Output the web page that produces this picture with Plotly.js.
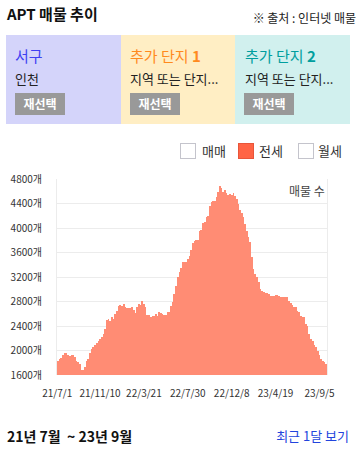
<!DOCTYPE html>
<html>
<head>
<meta charset="utf-8">
<script src="https://cdn.plot.ly/plotly-3.0.1.min.js"></script>
<style>
  html, body { margin: 0; padding: 0; background: #fff; }
  body { width: 358px; height: 449px; position: relative; overflow: hidden;
         font-family: "Noto Sans CJK KR", "Noto Sans", sans-serif; color: #222; }
  .abs { position: absolute; white-space: nowrap; }
  .card { position: absolute; top: 35px; height: 89px; }
  .ctitle { position: absolute; top: 48px; font-size: 15px; line-height: 15px; }
  .csub { position: absolute; top: 72px; font-size: 13px; line-height: 13px; color: #222; }
  .btn { position: absolute; top: 93px; width: 50px; height: 22px; background: #999;
         color: #fff; font-size: 12px; font-weight: bold; line-height: 22px; text-align: center; }
  .box { position: absolute; top: 143px; width: 14px; height: 14px; border: 1px solid #c4c4cc; background: #fff; }
  .ltext { position: absolute; top: 144px; font-size: 13px; line-height: 14px; color: #333; }
  #chart { position: absolute; left: 0; top: 165px; width: 358px; height: 240px; }
</style>
</head>
<body>
<div class="abs" style="left:7px; top:6px; font-size:15px; line-height:15px; font-weight:bold; color:#111;">APT 매물 추이</div>
<div class="abs" style="right:2px; top:12px; font-size:12px; line-height:12px; color:#222;">※ 출처 : 인터넷 매물</div>

<div class="card" style="left:6px; width:115px; background:#d4d4fa;"></div>
<div class="card" style="left:121px; width:114px; background:#ffeec4;"></div>
<div class="card" style="left:235px; width:115px; background:#d1f0ee;"></div>

<div class="ctitle abs" style="left:15px; color:#3f3ff2;">서구</div>
<div class="csub abs" style="left:15px;">인천</div>
<div class="btn" style="left:15px;">재선택</div>

<div class="ctitle abs" style="left:130px; color:#ff8a1e;">추가 단지 <b>1</b></div>
<div class="csub abs" style="left:130px;">지역 또는 단지...</div>
<div class="btn" style="left:130px;">재선택</div>

<div class="ctitle abs" style="left:245px; color:#009e9e;">추가 단지 <b>2</b></div>
<div class="csub abs" style="left:245px;">지역 또는 단지...</div>
<div class="btn" style="left:244px;">재선택</div>

<div class="box" style="left:180px;"></div>
<div class="ltext" style="left:202px;">매매</div>
<div class="box" style="left:238px; background:#ff6445; border-color:#e8553a;"></div>
<div class="ltext" style="left:259px;">전세</div>
<div class="box" style="left:298px;"></div>
<div class="ltext" style="left:318px;">월세</div>

<div id="chart"></div>

<div class="abs" style="left:7px; top:429px; font-size:14px; line-height:14px; font-weight:bold; color:#111;">21년 7월 &nbsp;~ 23년 9월</div>
<div class="abs" style="right:9px; top:429px; font-size:13px; line-height:14px; color:#2244dd;">최근 1달 보기</div>

<script>
// Listing counts (매물 수), 전세
const listingCounts = [
  1824, 1857, 1884, 1922, 1955, 1955, 1922, 1906, 1922, 1933,
  1890, 1830, 1808, 1775, 1687, 1687, 1731, 1824, 1868, 1955,
  2020, 2053, 2086, 2119, 2157, 2195, 2222, 2277, 2348, 2495,
  2512, 2485, 2545, 2518, 2588, 2637, 2730, 2741, 2725, 2758,
  2714, 2692, 2697, 2697, 2708, 2659, 2620, 2714, 2758, 2741,
  2801, 2752, 2703, 2577, 2577, 2539, 2566, 2566, 2599, 2566,
  2626, 2615, 2604, 2577, 2577, 2626, 2626, 2725, 2790, 2916,
  3052, 3205, 3282, 3353, 3451, 3446, 3446, 3500, 3538, 3642,
  3751, 3790, 3800, 3800, 3948, 3964, 4084, 4106, 4172, 4188,
  4363, 4428, 4439, 4439, 4505, 4592, 4690, 4647, 4592, 4614,
  4570, 4537, 4548, 4537, 4576, 4521, 4467, 4384, 4286, 4248,
  4177, 4068, 3953, 3860, 3778, 3522, 3325, 3243, 3205, 3123,
  3003, 2976, 2959, 2943, 2932, 2916, 2889, 2889, 2889, 2905,
  2905, 2889, 2867, 2867, 2878, 2867, 2872, 2807, 2779, 2747,
  2714, 2714, 2648, 2632, 2561, 2539, 2539, 2435, 2392, 2277,
  2195, 2157, 2086, 2053, 1993, 1933, 1862, 1835, 1807, 1786
];
const xTickLabels = ["21/7/1", "21/11/10", "22/3/21", "22/7/30", "22/12/8", "23/4/19", "23/9/5"];
const xTickIndex = [-0.4, 25, 51, 77, 103, 129, 155];
const yTickValues = [1600, 2000, 2400, 2800, 3200, 3600, 4000, 4400, 4800];
const yTickLabels = ["1600개", "2000개", "2400개", "2800개", "3200개", "3600개", "4000개", "4400개", "4800개"];

const xs = listingCounts.map((_, i) => i);

Plotly.newPlot('chart', [{
  type: 'bar',
  x: xs,
  y: listingCounts,
  marker: { color: '#ff8c74', line: { width: 0 } },
  hoverinfo: 'skip'
}], {
  width: 358, height: 240,
  margin: { l: 57, r: 31, t: 14, b: 30 },
  paper_bgcolor: 'rgba(0,0,0,0)',
  plot_bgcolor: '#fff',
  bargap: 0,
  showlegend: false,
  font: { family: '"Noto Sans CJK KR", "Noto Sans", sans-serif', size: 10, color: '#444' },
  xaxis: {
    range: [-0.5, listingCounts.length - 0.5],
    tickvals: xTickIndex, ticktext: xTickLabels,
    showgrid: false, zeroline: false,
    showline: false,
    ticks: 'outside', ticklen: 9, tickcolor: 'rgba(0,0,0,0)',
    tickfont: { size: 10, color: '#333' },
    fixedrange: true
  },
  yaxis: {
    range: [1600, 4800],
    tickvals: yTickValues, ticktext: yTickLabels,
    showgrid: true, gridcolor: '#ececec', gridwidth: 1,
    zeroline: false,
    showline: true, linecolor: '#ececec', linewidth: 1, mirror: true,
    ticks: 'outside', ticklen: 12, tickcolor: 'rgba(0,0,0,0)',
    tickfont: { size: 10, color: '#333' },
    fixedrange: true
  },
  annotations: [{
    text: '매물 수', xref: 'paper', yref: 'paper', x: 1, y: 0.94,
    xanchor: 'right', yanchor: 'middle', showarrow: false,
    font: { size: 12, color: '#444' }
  }]
}, { displayModeBar: false, staticPlot: true });
</script>
</body>
</html>
